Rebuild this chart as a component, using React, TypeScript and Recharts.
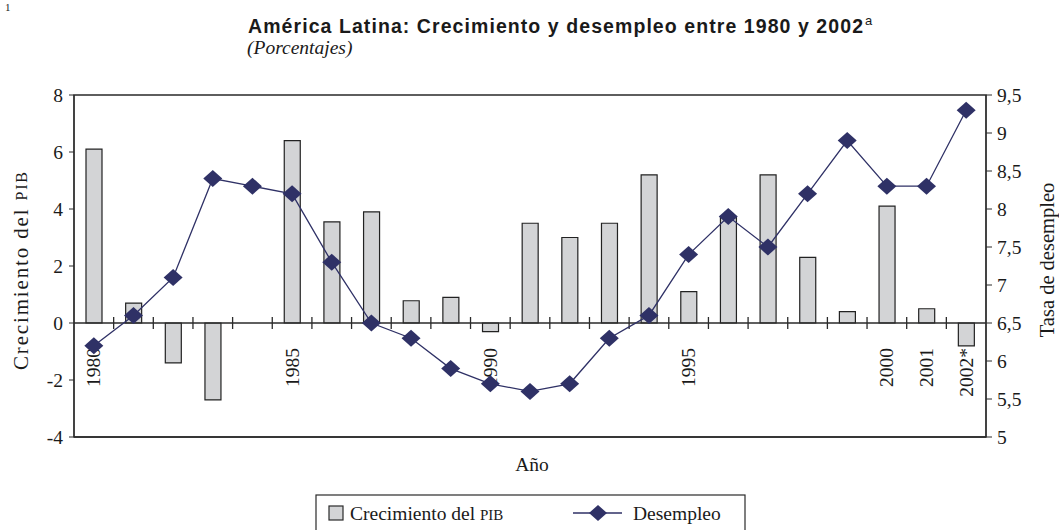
import React from 'react';
import { ComposedChart, Bar, Line, XAxis, YAxis, ReferenceLine, ReferenceArea } from 'recharts';

const years = ['1980','1981','1982','1983','1984','1985','1986','1987','1988','1989','1990','1991','1992','1993','1994','1995','1996','1997','1998','1999','2000','2001','2002'];
const yearLabels = ['1980','','','','','1985','','','','','1990','','','','','1995','','','','','2000','2001','2002*'];
const gdpGrowth: (number | null)[] = [6.1, 0.7, -1.4, -2.7, null, 6.4, 3.55, 3.9, 0.78, 0.9, -0.3, 3.5, 3.0, 3.5, 5.2, 1.1, 3.7, 5.2, 2.3, 0.4, 4.1, 0.5, -0.8];
const unemployment = [6.2, 6.6, 7.1, 8.4, 8.3, 8.2, 7.3, 6.5, 6.3, 5.9, 5.7, 5.6, 5.7, 6.3, 6.6, 7.4, 7.9, 7.5, 8.2, 8.9, 8.3, 8.3, 9.3];
const leftTicks = [-4, -2, 0, 2, 4, 6, 8];
const rightTicks = [5, 5.5, 6, 6.5, 7, 7.5, 8, 8.5, 9, 9.5];

const data = years.map((y, i) => ({ year: y, label: yearLabels[i], pib: gdpGrowth[i], des: unemployment[i] }));

const SERIF = '"Liberation Serif", "Times New Roman", serif';
const SANS = '"Liberation Sans", Arial, sans-serif';
const AXIS = '#2a2a2a';
const TEXT = '#1a1a1a';
const BAR_FILL = '#d3d4d6';
const NAVY = '#2f3166';

const ZeroAxis = (props: any) => {
  const { x1, y1, x2 } = props;
  const n = years.length;
  const bw = (x2 - x1) / n;
  return (
    <g>
      <line x1={x1} y1={y1} x2={x2} y2={y1} stroke={AXIS} strokeWidth={1.3} />
      {years.slice(1).map((_, k) => {
        const x = x1 + (k + 1) * bw;
        return <line key={'t' + k} x1={x} y1={y1 - 6} x2={x} y2={y1 + 6} stroke={AXIS} strokeWidth={1.3} />;
      })}
      {yearLabels.map((lab, i) => {
        if (!lab) return null;
        const cx = x1 + (i + 0.5) * bw;
        const ty = y1 + 25;
        return (
          <text key={'l' + i} x={cx} y={ty} transform={`rotate(-90, ${cx}, ${ty})`} textAnchor="end" dominantBaseline="central"
            style={{ fontFamily: SERIF }} fontSize={19.5} fill={TEXT}>{lab}</text>
        );
      })}
    </g>
  );
};

const LeftTick = (props: any) => {
  const { x, y, payload } = props;
  return (
    <text x={x} y={y} textAnchor="end" dominantBaseline="central" style={{ fontFamily: SERIF }} fontSize={19.5} fill={TEXT}>
      {String(payload.value)}
    </text>
  );
};

const RightTick = (props: any) => {
  const { x, y, payload } = props;
  return (
    <text x={x} y={y} textAnchor="start" dominantBaseline="central" style={{ fontFamily: SERIF }} fontSize={19.5} fill={TEXT}>
      {String(payload.value).replace('.', ',')}
    </text>
  );
};

const Diamond = (props: any) => {
  const { cx, cy } = props;
  if (cx == null || cy == null) return null;
  const hw = 9.5, hh = 8.5;
  return <path d={`M${cx},${cy - hh} L${cx + hw},${cy} L${cx},${cy + hh} L${cx - hw},${cy} Z`} fill={NAVY} />;
};

export default function App() {
  return (
    <div style={{ position: 'absolute', left: 0, top: 0, width: 1059, height: 530, background: '#fff' }}>
      <ComposedChart width={1059} height={530} data={data} margin={{ top: 95, right: 0, bottom: 0, left: 0 }}>
        <XAxis dataKey="year" height={93} axisLine={{ stroke: AXIS, strokeWidth: 1.3 }} tickLine={false} tick={false} />
        <YAxis yAxisId="l" domain={[-4, 8]} ticks={leftTicks} interval={0} width={74} tickSize={5} tickMargin={6}
          axisLine={{ stroke: AXIS, strokeWidth: 1.3 }} tickLine={{ stroke: AXIS }}
          tick={<LeftTick />} allowDataOverflow />
        <YAxis yAxisId="r" orientation="right" domain={[5, 9.5]} ticks={rightTicks} interval={0} width={73} tickSize={6} tickMargin={5}
          axisLine={{ stroke: AXIS, strokeWidth: 1.3 }} tickLine={{ stroke: AXIS }}
          tick={<RightTick />} allowDataOverflow />
        <ReferenceArea yAxisId="l" y1={-4} y2={8} fill="none" stroke={AXIS} strokeWidth={1.3} />
        <Bar yAxisId="l" dataKey="pib" fill={BAR_FILL} stroke="#222" strokeWidth={1.2} barSize={16} isAnimationActive={false} />
        <ReferenceLine yAxisId="l" y={0} shape={ZeroAxis} />
        <Line yAxisId="r" dataKey="des" stroke={NAVY} strokeWidth={1.3} dot={<Diamond />} activeDot={false} isAnimationActive={false} />
      </ComposedChart>
      <svg width={1059} height={530} style={{ position: 'absolute', left: 0, top: 0, pointerEvents: 'none' }}>
        <text x={5} y={11} style={{ fontFamily: SERIF }} fontSize={11} fill={TEXT}>1</text>
        <text x={248} y={33} style={{ fontFamily: SANS }} fontWeight="bold" fontSize={19.5} fill={TEXT} textLength={615} lengthAdjust="spacing">América Latina: Crecimiento y desempleo entre 1980 y 2002</text>
        <text x={865} y={25} style={{ fontFamily: SANS }} fontSize={13} fill={TEXT}>a</text>
        <text x={247} y={54} style={{ fontFamily: SERIF }} fontStyle="italic" fontSize={19.5} fill={TEXT}>(Porcentajes)</text>
        <text x={21} y={271} transform="rotate(-90, 21, 271)" textAnchor="middle" dominantBaseline="central" style={{ fontFamily: SERIF }} fontSize={21} fill={TEXT} textLength={198} lengthAdjust="spacing">
          Crecimiento del <tspan fontSize={16}>PIB</tspan>
        </text>
        <text x={1047} y={260} transform="rotate(-90, 1047, 260)" textAnchor="middle" dominantBaseline="central" style={{ fontFamily: SERIF }} fontSize={20.5} fill={TEXT}>Tasa de desempleo</text>
        <text x={532} y={471} textAnchor="middle" style={{ fontFamily: SERIF }} fontSize={19.5} fill={TEXT}>Año</text>
        <rect x={316} y={495} width={429} height={40} fill="#fff" stroke={AXIS} strokeWidth={1.2} />
        <rect x={329} y={506} width={14} height={14} fill={BAR_FILL} stroke={AXIS} strokeWidth={1.2} />
        <text x={350} y={520} style={{ fontFamily: SERIF }} fontSize={19.5} fill={TEXT}>Crecimiento del <tspan fontSize={15}>PIB</tspan></text>
        <line x1={573} y1={513} x2={622} y2={513} stroke={NAVY} strokeWidth={1.3} />
        <path d="M598,505 L607,513 L598,521 L589,513 Z" fill={NAVY} />
        <text x={633} y={520} style={{ fontFamily: SERIF }} fontSize={19.5} fill={TEXT}>Desempleo</text>
      </svg>
    </div>
  );
}
